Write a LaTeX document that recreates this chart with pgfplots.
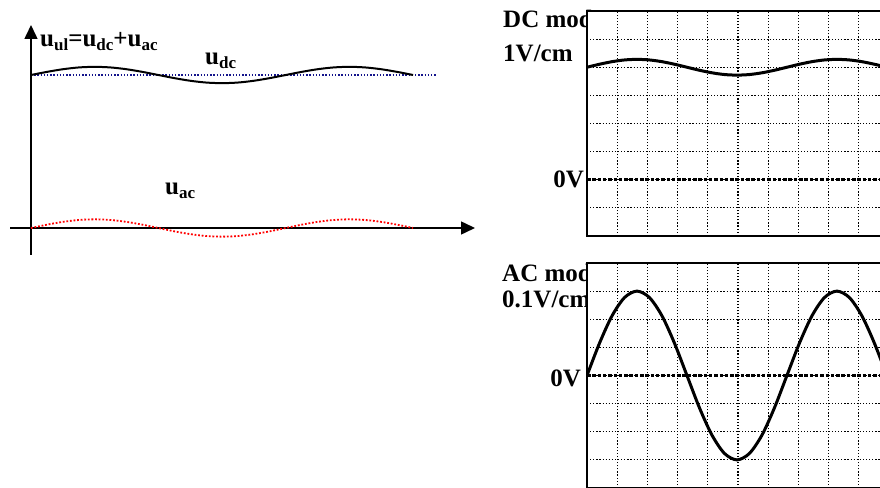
\documentclass[border=0pt]{standalone}
\usepackage{pgfplots}
\pgfplotsset{compat=1.18}
\usepackage{fontspec}
\setmainfont{Liberation Serif}
\usetikzlibrary{arrows.meta}

\newcommand\lbl{\fontsize{25}{30}\selectfont\bfseries}
\newcommand\sub[1]{\raisebox{-4pt}{\fontsize{17}{17}\selectfont\bfseries #1}}

\definecolor{dcblue}{RGB}{20,20,140}
\definecolor{acred}{RGB}{255,0,0}

% oscilloscope screen: 10 x 8 divisions
\pgfplotsset{
  scope/.style={
    scale only axis, width=302pt, height=225pt,
    xmin=0, xmax=10, xtick={0,1,...,10},
    xticklabels={}, yticklabels={},
    major tick length=0pt,
    grid=major,
    major grid style={black, line width=1.2pt, dash pattern=on 1.2pt off 1.9pt},
    axis line style={black, line width=2pt},
    axis background/.style={fill=white},
    no markers,
  }
}

\begin{document}
\begin{tikzpicture}
\useasboundingbox (0pt,0pt) rectangle (880pt,487pt);
\clip (0pt,0pt) rectangle (880pt,487pt);

% ---------- time-domain sketch ----------
\begin{axis}[
  at={(10pt,232pt)}, anchor=south west,
  scale only axis, width=465pt, height=230pt,
  xmin=-0.08245, xmax=1.7432, ymin=-0.5294, ymax=3.9804,
  axis lines=middle, ticks=none,
  axis line style={black, line width=1.5pt, -{Triangle[length=14pt,width=13pt]}},
  clip=false, no markers,
]
% DC level
\addplot[dcblue, line width=1.3pt, dash pattern=on 1.3pt off 1.9pt]
  coordinates {(0,3) (1.594,3)};
% total voltage u_dc + u_ac
\addplot[black, line width=2pt, smooth] coordinates {
  (0,3) (0.0625,3.061) (0.125,3.113) (0.1875,3.148) (0.25,3.16)
  (0.3125,3.148) (0.375,3.113) (0.4375,3.061) (0.5,3)
  (0.5625,2.939) (0.625,2.887) (0.6875,2.852) (0.75,2.84)
  (0.8125,2.852) (0.875,2.887) (0.9375,2.939) (1,3)
  (1.0625,3.061) (1.125,3.113) (1.1875,3.148) (1.25,3.16)
  (1.3125,3.148) (1.375,3.113) (1.4375,3.061) (1.5,3)};
% ripple u_ac
\addplot[acred, line width=1.8pt, dash pattern=on 1.8pt off 1.8pt, smooth] coordinates {
  (0,0) (0.0625,0.065) (0.125,0.120) (0.1875,0.157) (0.25,0.17)
  (0.3125,0.157) (0.375,0.120) (0.4375,0.065) (0.5,0)
  (0.5625,-0.065) (0.625,-0.120) (0.6875,-0.157) (0.75,-0.17)
  (0.8125,-0.157) (0.875,-0.120) (0.9375,-0.065) (1,0)
  (1.0625,0.065) (1.125,0.120) (1.1875,0.157) (1.25,0.17)
  (1.3125,0.157) (1.375,0.120) (1.4375,0.065) (1.5,0)};
\end{axis}

\node[anchor=base west, inner sep=0pt] at (40pt,440pt) {\lbl u\sub{ul}=u\sub{dc}+u\sub{ac}};
\node[anchor=base west, inner sep=0pt] at (205pt,422pt) {\lbl u\sub{dc}};
\node[anchor=base west, inner sep=0pt] at (165pt,292pt) {\lbl u\sub{ac}};

% ---------- scope labels ----------
\node[anchor=base west, inner sep=0pt] at (503pt,459pt) {\lbl DC mod};
\node[anchor=base west, inner sep=0pt] at (503pt,425pt) {\lbl 1V/cm};
\node[anchor=base east, inner sep=0pt] at (584pt,299pt) {\lbl 0V};
\node[anchor=base west, inner sep=0pt] at (502pt,205pt) {\lbl AC mod};
\node[anchor=base west, inner sep=0pt] at (502pt,179pt) {\lbl 0.1V/cm};
\node[anchor=base east, inner sep=0pt] at (581pt,100pt) {\lbl 0V};

% ---------- DC coupling, 1 V/div ----------
\begin{axis}[scope, at={(587pt,251pt)}, anchor=south west,
  ymin=-2, ymax=6, ytick={-2,-1,...,6}]
\addplot[black, line width=2.8pt, dash pattern=on 3.5pt off 1.8pt]
  coordinates {(0,0) (10,0)};
\addplot[black, line width=3pt, smooth] coordinates {
  (0,4) (0.414,4.107) (0.828,4.198) (1.241,4.259) (1.655,4.28)
  (2.069,4.259) (2.483,4.198) (2.896,4.107) (3.31,4)
  (3.724,3.893) (4.138,3.802) (4.551,3.741) (4.965,3.72)
  (5.379,3.741) (5.793,3.802) (6.206,3.893) (6.62,4)
  (7.034,4.107) (7.448,4.198) (7.861,4.259) (8.275,4.28)
  (8.689,4.259) (9.103,4.198) (9.516,4.107) (9.93,4) (10.344,3.893)};
\end{axis}

% ---------- AC coupling, 0.1 V/div ----------
\begin{axis}[scope, at={(587pt,-1pt)}, anchor=south west,
  ymin=-0.4, ymax=0.4, ytick={-0.4,-0.3,-0.2,-0.1,0,0.1,0.2,0.3,0.4}]
\addplot[black, line width=2.8pt, dash pattern=on 3.5pt off 1.8pt]
  coordinates {(0,0) (10,0)};
\addplot[black, line width=3pt, smooth] coordinates {
  (0,0) (0.414,0.115) (0.828,0.212) (1.241,0.277) (1.655,0.3)
  (2.069,0.277) (2.483,0.212) (2.896,0.115) (3.31,0)
  (3.724,-0.115) (4.138,-0.212) (4.551,-0.277) (4.965,-0.3)
  (5.379,-0.277) (5.793,-0.212) (6.206,-0.115) (6.62,0)
  (7.034,0.115) (7.448,0.212) (7.861,0.277) (8.275,0.3)
  (8.689,0.277) (9.103,0.212) (9.516,0.115) (9.93,0) (10.344,-0.115)};
\end{axis}
\end{tikzpicture}
\end{document}
